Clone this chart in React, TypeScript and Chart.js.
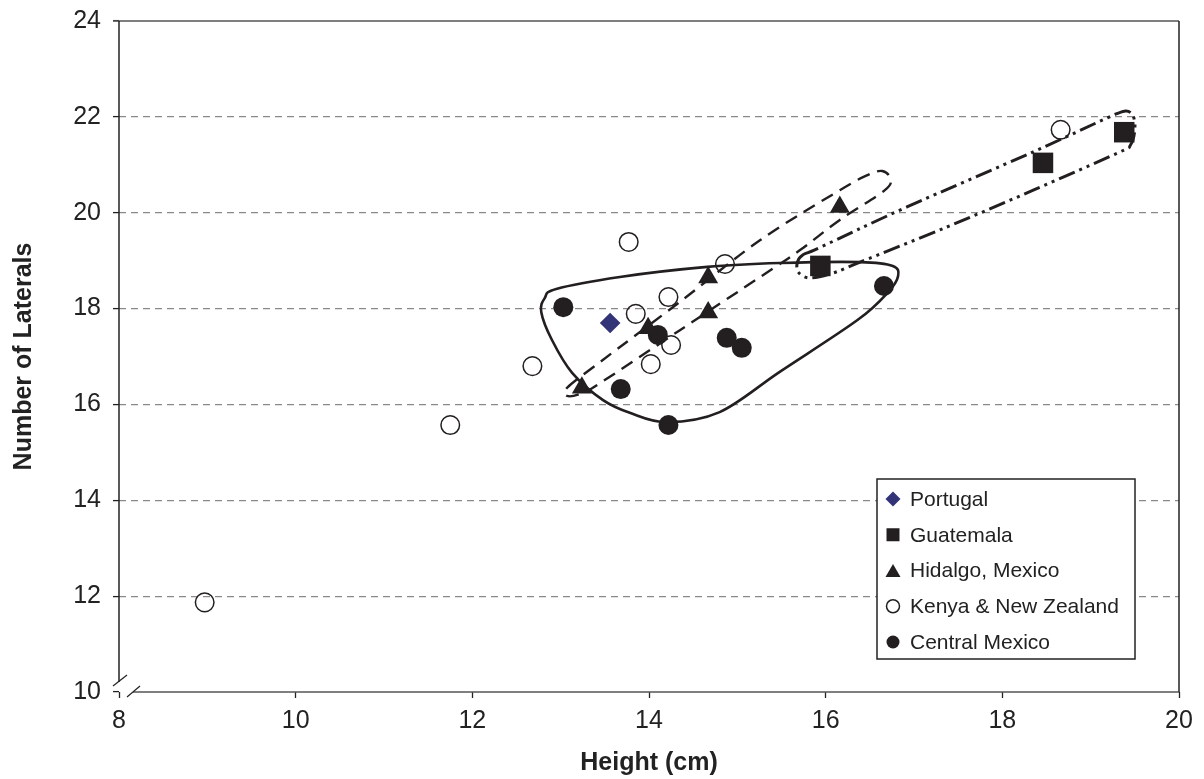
import React, { useEffect, useRef } from 'react';
import { Chart, registerables } from 'chart.js';

Chart.register(...registerables);

// ---- data (x = height cm, y = number of laterals) ----
const portugal: [number, number][] = [[13.56, 17.7]];
const guatemala: [number, number][] = [[15.94, 18.89], [18.46, 21.04], [19.38, 21.68]];
const hidalgo: [number, number][] = [[13.24, 16.35], [13.99, 17.59], [14.67, 17.92], [14.67, 18.65], [16.16, 20.12]];
const kenyaNZ: [number, number][] = [
  [8.97, 11.87], [11.75, 15.57], [12.68, 16.8], [13.77, 19.39], [13.85, 17.89],
  [14.02, 16.84], [14.22, 18.24], [14.25, 17.24], [14.86, 18.93], [18.66, 21.73],
];
const centralMexico: [number, number][] = [
  [13.03, 18.03], [13.68, 16.32], [14.1, 17.45], [14.22, 15.57], [14.88, 17.39], [15.05, 17.18], [16.66, 18.47],
];

// hand-drawn group outlines, in data units
const outlineCentral: [number, number][] = [
  [12.95, 18.41], [13.67, 18.66], [14.66, 18.87], [15.48, 18.95], [16.39, 18.97], [16.76, 18.89],
  [16.82, 18.68], [16.71, 18.35], [16.36, 17.76], [15.48, 16.68], [14.8, 15.84], [14.2, 15.63],
  [13.79, 15.82], [13.48, 16.09], [13.13, 16.66], [12.9, 17.35], [12.78, 17.93], [12.82, 18.22],
];
const outlineHidalgo: [number, number][] = [
  [13.08, 16.36], [13.45, 16.89], [14.35, 18.14], [15.26, 19.43], [16.16, 20.47], [16.48, 20.79],
  [16.64, 20.87], [16.73, 20.72], [16.67, 20.47], [16.16, 19.85], [15.71, 19.22], [15.26, 18.66],
  [14.35, 17.55], [13.45, 16.45], [13.22, 16.22], [13.07, 16.18],
];
const outlineGuatemala: [number, number][] = [
  [15.74, 19.12], [15.94, 19.28], [16.92, 20.12], [18.35, 21.27], [19.19, 21.98], [19.39, 22.12],
  [19.48, 22.02], [19.5, 21.73], [19.45, 21.41], [19.31, 21.25], [18.35, 20.47], [17.37, 19.7],
  [16.39, 18.97], [16.08, 18.74], [15.82, 18.64], [15.69, 18.76], [15.68, 18.97],
];

const xLabel = 'Height (cm)';
const yLabel = 'Number of Laterals';
const seriesLabels = ['Portugal', 'Guatemala', 'Hidalgo, Mexico', 'Kenya & New Zealand', 'Central Mexico'];

const FONT = '"Liberation Sans", Arial, Helvetica, sans-serif';
const INK = '#231f20';

const toPts = (a: [number, number][]) => a.map(([x, y]) => ({ x, y }));

function closedSpline(ctx: CanvasRenderingContext2D, pts: number[][]) {
  const n = pts.length;
  ctx.beginPath();
  ctx.moveTo(pts[0][0], pts[0][1]);
  for (let i = 0; i < n; i++) {
    const p0 = pts[(i - 1 + n) % n], p1 = pts[i], p2 = pts[(i + 1) % n], p3 = pts[(i + 2) % n];
    ctx.bezierCurveTo(
      p1[0] + (p2[0] - p0[0]) / 6, p1[1] + (p2[1] - p0[1]) / 6,
      p2[0] - (p3[0] - p1[0]) / 6, p2[1] - (p3[1] - p1[1]) / 6,
      p2[0], p2[1]
    );
  }
  ctx.closePath();
  ctx.stroke();
}

function drawMarker(ctx: CanvasRenderingContext2D, style: string, x: number, y: number, r: number, fill: string, stroke: string, lw: number) {
  ctx.beginPath();
  if (style === 'rect') {
    ctx.rect(x - r, y - r, 2 * r, 2 * r);
  } else if (style === 'rectRot') {
    ctx.moveTo(x, y - r); ctx.lineTo(x + r, y); ctx.lineTo(x, y + r); ctx.lineTo(x - r, y); ctx.closePath();
  } else if (style === 'triangle') {
    const h = r * 1.732;
    ctx.moveTo(x, y - h / 2); ctx.lineTo(x + r, y + h / 2); ctx.lineTo(x - r, y + h / 2); ctx.closePath();
  } else {
    ctx.arc(x, y, r, 0, Math.PI * 2);
  }
  if (fill && fill !== 'transparent') { ctx.fillStyle = fill; ctx.fill(); }
  if (lw > 0) { ctx.strokeStyle = stroke; ctx.lineWidth = lw; ctx.stroke(); }
}

const decorPlugin = {
  id: 'decor',
  beforeDatasetsDraw(chart: any) {
    const { ctx, chartArea: a } = chart;
    ctx.save();
    ctx.lineWidth = 1.5;
    ctx.setLineDash([]);
    const line = (x1: number, y1: number, x2: number, y2: number) => {
      ctx.beginPath(); ctx.moveTo(x1, y1); ctx.lineTo(x2, y2); ctx.stroke();
    };
    ctx.strokeStyle = '#555';
    line(a.left - 6, a.top, a.right, a.top);
    line(a.left + 14, a.bottom, a.right, a.bottom);
    ctx.strokeStyle = '#222';
    line(a.right, a.top, a.right, a.bottom);
    line(a.left, a.top, a.left, a.bottom - 10);
    ctx.lineWidth = 1.2;
    line(a.left - 6, a.bottom - 6, a.left + 8, a.bottom - 17);
    line(a.left + 8, a.bottom + 5, a.left + 21, a.bottom - 6);
    ctx.restore();
  },
  afterDatasetsDraw(chart: any) {
    const { ctx, scales } = chart;
    const xs = scales.x, ys = scales.y;
    const px = (arr: [number, number][]) => arr.map(([x, y]) => [xs.getPixelForValue(x), ys.getPixelForValue(y)]);
    ctx.save();
    ctx.strokeStyle = INK;
    ctx.lineJoin = 'round';
    // central Mexico: solid
    ctx.lineWidth = 2.6;
    ctx.setLineDash([]);
    closedSpline(ctx, px(outlineCentral));
    // Hidalgo: dashed
    ctx.lineWidth = 2.4;
    ctx.setLineDash([13, 8]);
    closedSpline(ctx, px(outlineHidalgo));
    // Guatemala: dash-dot-dot
    ctx.lineWidth = 3;
    ctx.setLineDash([17, 5, 3, 5, 3, 5]);
    closedSpline(ctx, px(outlineGuatemala));
    ctx.restore();

    // legend
    const L = 877, T = 479, W = 258, H = 180;
    ctx.save();
    ctx.fillStyle = '#fff';
    ctx.fillRect(L, T, W, H);
    ctx.strokeStyle = '#222';
    ctx.lineWidth = 1.5;
    ctx.strokeRect(L, T, W, H);
    ctx.font = `21px ${FONT}`;
    ctx.textBaseline = 'middle';
    const legendR: Record<string, number> = { rectRot: 7.5, rect: 6.5, triangle: 7.5, circle: 6.5 };
    chart.data.datasets.forEach((ds: any, i: number) => {
      const y = T + 20 + i * 35.75;
      const st = ds.pointStyle || 'circle';
      drawMarker(ctx, st, L + 16, y, legendR[st] || 6.5, ds.pointBackgroundColor, ds.pointBorderColor, ds.pointBorderWidth);
      ctx.fillStyle = '#222';
      ctx.fillText(ds.label, L + 33, y + 1);
    });
    ctx.restore();
  },
};

export default function App() {
  const ref = useRef<HTMLCanvasElement>(null);
  useEffect(() => {
    if (!ref.current) return;
    const mk = (label: string, data: [number, number][], style: string, r: number, bg: string, bc: string, bw: number) => ({
      label,
      data: toPts(data),
      pointStyle: style,
      pointRadius: r,
      pointBackgroundColor: bg,
      pointBorderColor: bc,
      pointBorderWidth: bw,
      backgroundColor: bg,
      borderColor: bc,
      showLine: false,
    });
    const tickFont = { family: FONT, size: 25 };
    const gridColor = (c: any) => (c.tick && (c.tick.value === 10 || c.tick.value === 24) ? 'rgba(0,0,0,0)' : '#8a8a8a');
    const chart = new Chart(ref.current, {
      type: 'scatter',
      data: {
        datasets: [
          mk(seriesLabels[0], portugal, 'rectRot', 10.3, '#333377', '#333377', 0),
          mk(seriesLabels[1], guatemala, 'rect', 14.5, INK, INK, 0),
          mk(seriesLabels[2], hidalgo, 'triangle', 11.5, INK, INK, 0),
          mk(seriesLabels[3], kenyaNZ, 'circle', 9.3, 'transparent', INK, 1.5),
          mk(seriesLabels[4], centralMexico, 'circle', 10, INK, INK, 0),
        ] as any,
      },
      options: {
        animation: false,
        responsive: false,
        devicePixelRatio: 1,
        layout: { padding: { top: 21, right: 25, left: 0, bottom: 0 } },
        plugins: { legend: { display: false }, tooltip: { enabled: false } },
        scales: {
          x: {
            type: 'linear',
            min: 8,
            max: 20,
            ticks: { stepSize: 2, font: tickFont, color: '#222', padding: 8 },
            grid: { drawOnChartArea: false, tickLength: 6, tickColor: '#222', tickWidth: 1.3, tickBorderDash: [] },
            border: { display: false },
            title: { display: true, text: xLabel, color: '#222', font: { family: FONT, size: 25, weight: 'bold' }, padding: { top: 0, bottom: 1 } },
            afterFit: (s: any) => { s.height = 87; s.paddingLeft = 0; s.paddingRight = 0; },
          },
          y: {
            type: 'linear',
            min: 10,
            max: 24,
            ticks: { stepSize: 2, font: tickFont, color: '#222', padding: 12 },
            grid: { color: gridColor, lineWidth: 1.2, tickLength: 6, tickColor: '#222', tickWidth: 1.3, tickBorderDash: [] },
            border: { display: false, dash: [7, 5] },
            title: { display: true, text: yLabel, color: '#222', font: { family: FONT, size: 25, weight: 'bold' }, padding: { top: 9, bottom: 0 } },
            afterFit: (s: any) => { s.width = 119; s.paddingTop = 0; s.paddingBottom = 0; },
          },
        },
      } as any,
      plugins: [decorPlugin],
    });
    return () => chart.destroy();
  }, []);
  return (
    <div style={{ position: 'absolute', left: 0, top: 0, width: 1204, height: 779, background: '#fff' }}>
      <canvas ref={ref} width={1204} height={779} style={{ display: 'block' }} />
    </div>
  );
}
